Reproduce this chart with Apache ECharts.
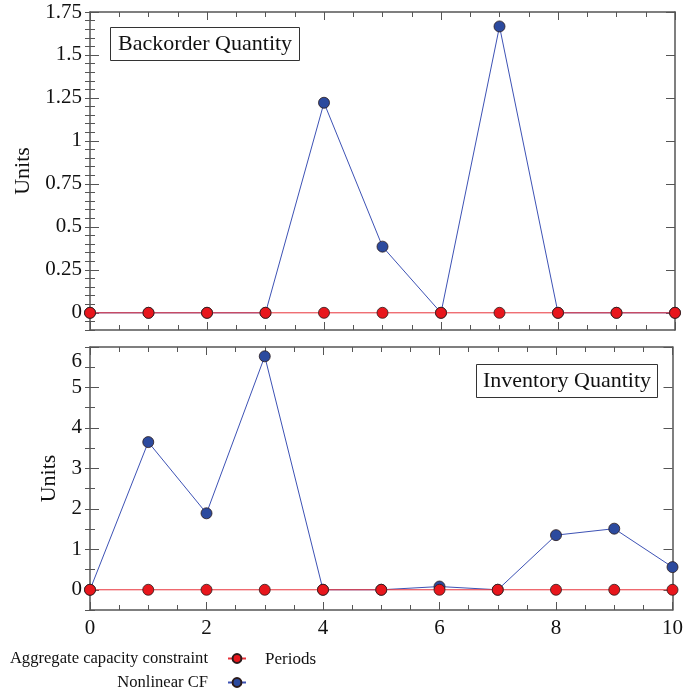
<!DOCTYPE html>
<html>
<head>
<meta charset="utf-8">
<style>
  html, body { margin: 0; padding: 0; background: #fff; }
  #chart { width: 686px; height: 694px; }
</style>
<script src="https://cdn.jsdelivr.net/npm/echarts@6/dist/echarts.min.js"></script>
</head>
<body>
<div id="chart"></div>
<script>
// Planning periods 0..10
const periods = [0, 1, 2, 3, 4, 5, 6, 7, 8, 9, 10];

// Backorder quantity per period
const backorderAggregate = [0, 0, 0, 0, 0, 0, 0, 0, 0, 0, 0];
const backorderNonlinear = [0, 0, 0, 0, 1.222, 0.385, 0, 1.666, 0, 0, 0];

// Inventory quantity per period
const inventoryAggregate = [0, 0, 0, 0, 0, 0, 0, 0, 0, 0, 0];
const inventoryNonlinear = [0, 3.65, 1.89, 5.77, 0, 0, 0.08, 0, 1.35, 1.51, 0.56];

// Labelled tick values
const backorderTicks = [0, 0.25, 0.5, 0.75, 1, 1.25, 1.5, 1.75];
const inventoryTicks = [0, 1, 2, 3, 4, 5, 6];

const seriesNames = ['Aggregate capacity constraint', 'Nonlinear CF'];

const FONT = 'Liberation Serif';
const FRAME = '#555';
const RED = '#e8161c';
const BLUE = '#2c4a9e';

const pair = (xs, ys) => xs.map((x, i) => [x, ys[i]]);

const frameLine = { show: true, onZero: false, lineStyle: { color: FRAME, width: 1.5 } };

function xAxes(gridIndex, position, showLabels) {
  return {
    type: 'value', gridIndex, position, min: 0, max: 10, interval: 2,
    axisLine: frameLine,
    axisTick: { show: true, inside: true, length: 8, lineStyle: { color: FRAME, width: 1 } },
    minorTick: { show: true, splitNumber: 4, length: 5, lineStyle: { color: FRAME, width: 1 } },
    splitLine: { show: false },
    axisLabel: showLabels
      ? { show: true, margin: 8, fontFamily: FONT, fontSize: 21, color: '#111' }
      : { show: false }
  };
}

// Two y axes per side: one carries the major ticks (and labels), the other the minor ticks
function yAxes(gridIndex, position, min, max, step, majors, showLabels, nameGap, labelExtra) {
  const major = {
    type: 'value', gridIndex, position, min, max, interval: step,
    axisLine: frameLine,
    axisTick: { show: true, inside: true, length: 9, customValues: majors, lineStyle: { color: FRAME, width: 1 } },
    splitLine: { show: false },
    axisLabel: showLabels
      ? Object.assign({ show: true, margin: 8, fontFamily: FONT, fontSize: 21, color: '#111', customValues: majors }, labelExtra || {})
      : { show: false }
  };
  if (showLabels) {
    major.name = 'Units';
    major.nameLocation = 'middle';
    major.nameGap = nameGap;
    major.nameTextStyle = { fontFamily: FONT, fontSize: 22, color: '#111' };
  }
  const minor = {
    type: 'value', gridIndex, position, min, max, interval: step,
    axisLine: { show: false },
    axisTick: { show: true, inside: true, length: 5, lineStyle: { color: FRAME, width: 1 } },
    splitLine: { show: false },
    axisLabel: { show: false }
  };
  return [major, minor];
}

const lineSeries = (name, data, xi, yi, color, lineColor, z) => ({
  name, type: 'line', data, xAxisIndex: xi, yAxisIndex: yi, z,
  symbol: 'circle', symbolSize: 11,
  itemStyle: { color, borderColor: '#2a1a1a', borderWidth: 0.8 },
  lineStyle: { color: lineColor, width: 1 },
  clip: false,
  emphasis: { disabled: true }
});

const chart = echarts.init(document.getElementById('chart'), null, { renderer: 'canvas' });

const option = {
  animation: false,
  backgroundColor: '#fff',
  grid: [
    { left: 90, right: 11, top: 12, height: 318 },
    { left: 90, right: 11, top: 347, height: 263 }
  ],
  xAxis: [
    xAxes(0, 'bottom', false),
    xAxes(0, 'top', false),
    xAxes(1, 'bottom', true),
    xAxes(1, 'top', false)
  ],
  yAxis: [
    ...yAxes(0, 'left', -0.1, 1.75, 0.05, backorderTicks, true, 53),
    ...yAxes(0, 'right', -0.1, 1.75, 0.05, backorderTicks, false),
    ...yAxes(1, 'left', -0.5, 6, 0.5, inventoryTicks, true, 28, {
      formatter: v => (Math.abs(v - 6) < 1e-9 ? '{top|6}' : String(v)),
      rich: { top: { fontFamily: FONT, fontSize: 21, color: '#111', padding: [28, 0, 0, 0] } }
    }),
    ...yAxes(1, 'right', -0.5, 6, 0.5, inventoryTicks, false)
  ],
  title: [
    {
      text: 'Backorder Quantity', left: 110, top: 27,
      borderWidth: 1, borderColor: '#333', padding: [6, 8, 6, 8],
      textStyle: { fontFamily: FONT, fontSize: 22, fontWeight: 'normal', color: '#111', lineHeight: 22 }
    },
    {
      text: 'Inventory Quantity', left: 476, top: 364,
      borderWidth: 1, borderColor: '#333', padding: [6, 7, 6, 7],
      textStyle: { fontFamily: FONT, fontSize: 22, fontWeight: 'normal', color: '#111', lineHeight: 22 }
    }
  ],
  legend: [
    {
      data: [seriesNames[0]], right: 439, top: 650, padding: 0, align: 'right',
      itemWidth: 18, itemHeight: 11, selectedMode: false,
      textStyle: { fontFamily: FONT, fontSize: 16.6, color: '#111', padding: [0, 15, 0, 0] }
    },
    {
      data: [seriesNames[1]], right: 439, top: 674, padding: 0, align: 'right',
      itemWidth: 18, itemHeight: 11, selectedMode: false,
      textStyle: { fontFamily: FONT, fontSize: 16.6, color: '#111', padding: [0, 15, 0, 0] }
    }
  ],
  graphic: [
    {
      type: 'text', left: 265, top: 651,
      style: { text: 'Periods', fontFamily: FONT, fontSize: 17, fill: '#111' }
    }
  ],
  series: [
    lineSeries(seriesNames[1], pair(periods, backorderNonlinear), 0, 0, BLUE, '#3d52b5', 2),
    lineSeries(seriesNames[0], pair(periods, backorderAggregate), 0, 0, RED, '#e8323a', 3),
    lineSeries(seriesNames[1], pair(periods, inventoryNonlinear), 2, 4, BLUE, '#3d52b5', 2),
    lineSeries(seriesNames[0], pair(periods, inventoryAggregate), 2, 4, RED, '#e8323a', 3)
  ]
};

chart.setOption(option);
</script>
</body>
</html>
